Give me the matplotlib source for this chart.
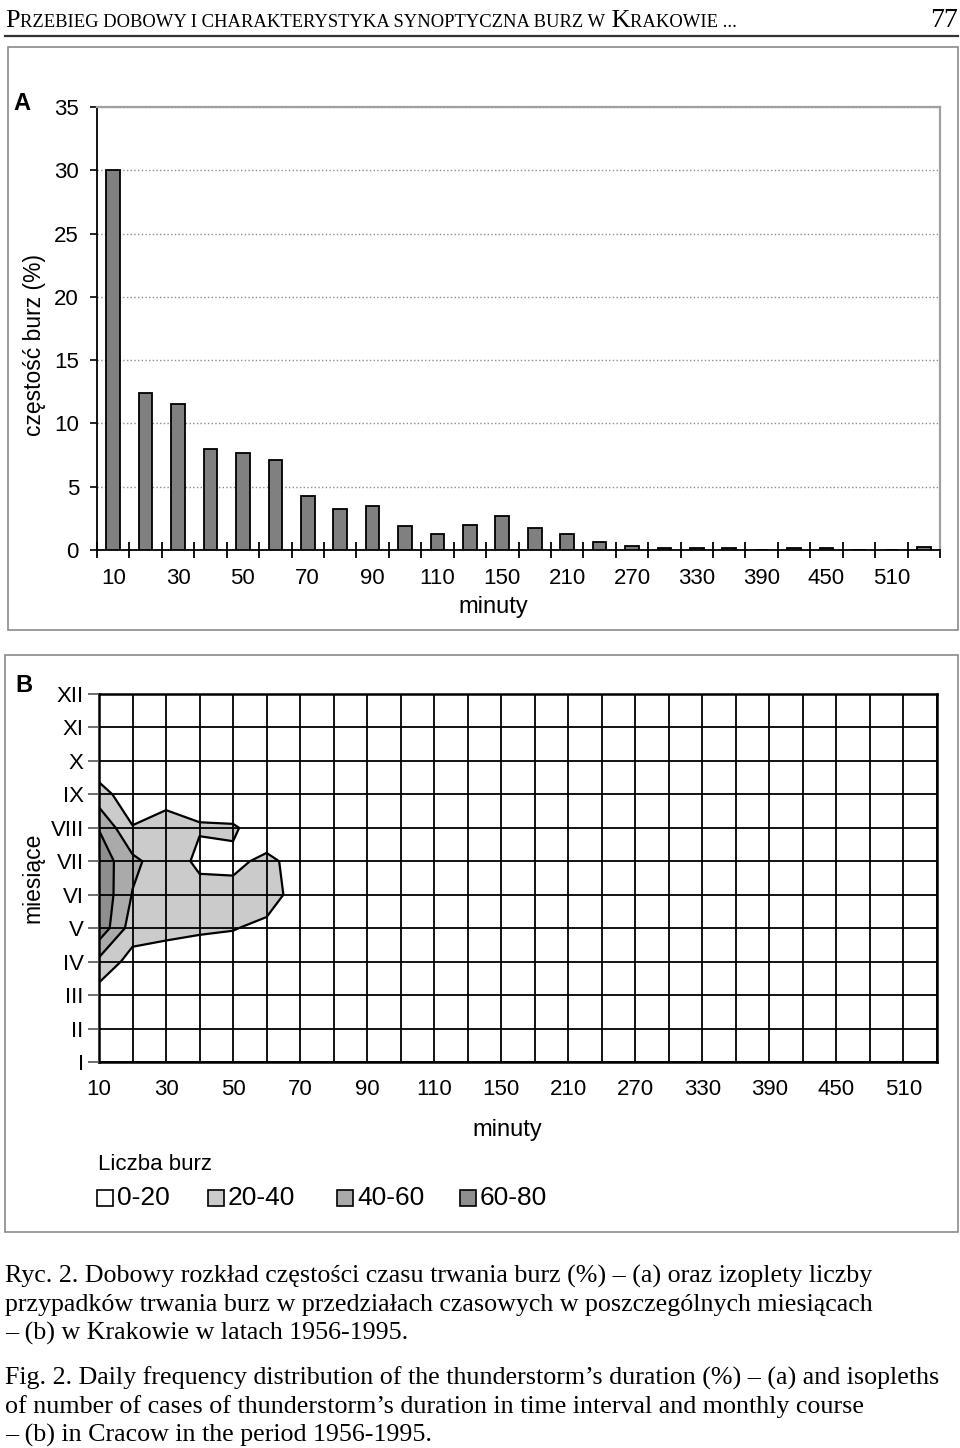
import logging
import numpy as np
import matplotlib
matplotlib.use('Agg')
import matplotlib.pyplot as plt
from matplotlib.patches import Rectangle

logging.getLogger('matplotlib.font_manager').setLevel(logging.ERROR)

SANS = ['Liberation Sans Narrow', 'Liberation Sans', 'DejaVu Sans']
SERIF = ['Liberation Serif', 'DejaVu Serif']
plt.rcParams['font.family'] = SANS

# --- dane: rys. A, czestosc czasu trwania burz (%) ---
czas = [10, 20, 30, 40, 50, 60, 70, 80, 90, 100, 110, 130, 150, 180, 210,
        240, 270, 300, 330, 360, 390, 420, 450, 480, 510, 540]
czestosc = [30.0, 12.4, 11.5, 8.0, 7.7, 7.1, 4.3, 3.2, 3.5, 1.9, 1.3, 2.0, 2.7,
            1.7, 1.3, 0.65, 0.3, 0.15, 0.15, 0.15, 0.0, 0.15, 0.15, 0.0, 0.0, 0.2]
czas_etykiety = [str(c) for c in czas[::2]]

# --- dane: rys. B, liczba burz (miesiac x przedzial czasu) ---
miesiace = ['I', 'II', 'III', 'IV', 'V', 'VI', 'VII', 'VIII', 'IX', 'X', 'XI', 'XII']
liczba = [
    [1, 1, 0, 0, 0, 0, 0, 0, 0, 0, 0, 0, 0, 0, 0, 0, 0, 0, 0, 0, 0, 0, 0, 0, 0, 0],
    [3, 1, 1, 0, 0, 0, 0, 0, 0, 0, 0, 0, 0, 0, 0, 0, 0, 0, 0, 0, 0, 0, 0, 0, 0, 0],
    [11, 3, 2, 1, 1, 0, 0, 0, 0, 0, 0, 0, 0, 0, 0, 0, 0, 0, 0, 0, 0, 0, 0, 0, 0, 0],
    [35, 12, 8, 8, 8, 4, 3, 2, 2, 1, 1, 1, 1, 1, 1, 0, 0, 0, 0, 0, 0, 0, 0, 0, 0, 0],
    [74, 30, 27, 23, 21, 15, 6, 5, 6, 3, 2, 4, 5, 3, 2, 1, 1, 0, 0, 0, 0, 0, 1, 0, 0, 0],
    [76, 39, 30, 25, 24, 30, 10, 9, 10, 6, 4, 6, 8, 5, 4, 2, 1, 1, 0, 1, 0, 0, 0, 0, 0, 1],
    [72, 45, 28, 17, 17, 23, 15, 11, 12, 6, 4, 7, 9, 6, 4, 3, 1, 1, 1, 0, 0, 1, 0, 0, 0, 1],
    [59, 21, 29, 21, 22, 11, 10, 8, 9, 5, 3, 5, 7, 4, 3, 2, 1, 0, 0, 0, 0, 0, 0, 0, 0, 0],
    [28, 8, 12, 15, 5, 4, 4, 3, 3, 2, 1, 2, 3, 2, 1, 0, 0, 0, 0, 0, 0, 0, 0, 0, 0, 0],
    [6, 2, 1, 1, 0, 0, 0, 0, 0, 0, 0, 0, 0, 0, 0, 0, 0, 0, 0, 0, 0, 0, 0, 0, 0, 0],
    [2, 0, 0, 0, 0, 0, 0, 0, 0, 0, 0, 0, 0, 0, 0, 0, 0, 0, 0, 0, 0, 0, 0, 0, 0, 0],
    [1, 0, 0, 0, 0, 0, 0, 0, 0, 0, 0, 0, 0, 0, 0, 0, 0, 0, 0, 0, 0, 0, 0, 0, 0, 0],
]
progi = [0, 20, 40, 60, 80]
progi_etykiety = ['0-20', '20-40', '40-60', '60-80']
kolory = ['white', '#cbcbcb', '#aaaaaa', '#8e8e8e']

W, H = 960, 1448
fig = plt.figure(figsize=(W / 100, H / 100), dpi=100)


def fx(px):
    return px / W


def fy(py):
    return 1 - py / H


def ramka(x0, y0, x1, y1):
    fig.patches.append(Rectangle((fx(x0), fy(y1)), fx(x1) - fx(x0), fy(y0) - fy(y1),
                                 transform=fig.transFigure, fill=False,
                                 edgecolor='#8a8a8a', lw=1.2))


# ===================== A =====================
ramka(8, 47, 958, 630)
axA = fig.add_axes([fx(97), fy(550), fx(940) - fx(97), fy(107) - fy(550)])
pos = np.arange(len(czas))
axA.bar(pos, czestosc, width=0.42, color='#808080', edgecolor='black', lw=1.3, zorder=3)
axA.set_xlim(-0.5, len(czas) - 0.5)
axA.set_ylim(0, 35)
axA.set_yticks(range(0, 36, 5))
axA.yaxis.grid(True, ls=':', color='#8c8c8c', lw=1.0)
axA.set_axisbelow(True)
axA.set_xticks(pos[::2], czas_etykiety)
axA.set_xticks(np.arange(-0.5, len(czas), 1), minor=True)
axA.tick_params(axis='x', which='major', length=0, pad=13, labelsize=16)
axA.tick_params(axis='x', which='minor', direction='inout', length=11, width=1.3)
axA.tick_params(axis='y', length=5, width=1.2, pad=8, labelsize=16)
for s in ['top', 'right']:
    axA.spines[s].set_color('#a0a0a0')
    axA.spines[s].set_linewidth(1.6)
axA.spines['left'].set_linewidth(1.3)
axA.spines['bottom'].set_linewidth(1.3)
fig.text(fx(35), fy(345), 'częstość burz (%)', rotation=90, ha='center', va='center', fontsize=16.5)
fig.text(fx(493), fy(607), 'minuty', ha='center', va='center', fontsize=17)
fig.text(fx(22), fy(103), 'A', ha='center', va='center', fontsize=17, weight='bold')

# ===================== B =====================
ramka(5, 655, 958, 1232)
axB = fig.add_axes([fx(99), fy(1062), fx(937) - fx(99), fy(694) - fy(1062)])
Z = np.array(liczba, dtype=float)
X = np.arange(len(czas))
Y = np.arange(1, len(miesiace) + 1)
axB.contourf(X, Y, Z, levels=progi, colors=kolory)
axB.contour(X, Y, Z, levels=progi[1:-1], colors='black', linewidths=1.6)
axB.set_xlim(0, len(czas) - 1)
axB.set_ylim(1, 12)
axB.set_xticks(X[::2], czas_etykiety)
axB.set_xticks(X, minor=True)
axB.set_yticks(Y, miesiace)
axB.grid(True, which='both', color='black', lw=1.3)
axB.set_axisbelow(False)
axB.tick_params(axis='x', which='both', length=0, pad=12, labelsize=16)
axB.tick_params(axis='y', length=8, width=1.2, color='#555555', pad=3, labelsize=16)
for s in axB.spines.values():
    s.set_linewidth(1.8)
fig.text(fx(33), fy(878), 'miesiące', rotation=90, ha='center', va='center', fontsize=16.5)
fig.text(fx(507), fy(1130), 'minuty', ha='center', va='center', fontsize=17)
fig.text(fx(24), fy(685), 'B', ha='center', va='center', fontsize=17, weight='bold')

# legenda
fig.text(fx(98), fy(1170), 'Liczba burz', ha='left', va='baseline', fontsize=16)
leg_x = [97, 208, 337, 460]
for x0, lab, kol in zip(leg_x, progi_etykiety, kolory):
    fig.patches.append(Rectangle((fx(x0), fy(1206)), fx(16), 16 / H,
                                 transform=fig.transFigure, facecolor=kol,
                                 edgecolor='black', lw=1.2))
    fig.text(fx(x0 + 20), fy(1198), lab, ha='left', va='center', fontsize=19)

# ===================== naglowek i podpis =====================
r = fig.canvas.get_renderer()


def kapitaliki(x, y, czesci, skala):
    for txt, size in czesci:
        t = fig.text(fx(x), fy(y), txt, fontsize=size * skala, family=SERIF, va='baseline', ha='left')
        x += t.get_window_extent(renderer=r).width


def szerokosc(czesci):
    w = 0
    for txt, size in czesci:
        t = fig.text(0, 0, txt, fontsize=size, family=SERIF)
        w += t.get_window_extent(renderer=r).width
        t.remove()
    return w


naglowek = [('P', 21), ('RZEBIEG DOBOWY I CHARAKTERYSTYKA SYNOPTYCZNA BURZ W', 15),
            (' K', 21), ('RAKOWIE ...', 15)]
kapitaliki(5, 27, naglowek, 735 / szerokosc(naglowek))
fig.text(fx(958), fy(27), '77', family=SERIF, fontsize=20, ha='right', va='baseline')
fig.add_artist(plt.Line2D([fx(5), fx(958)], [fy(36), fy(36)], color='#333333', lw=1.6))

podpis = [
    'Ryc. 2. Dobowy rozkład częstości czasu trwania burz (%) – (a) oraz izoplety liczby',
    'przypadków trwania burz w przedziałach czasowych w poszczególnych miesiącach',
    '– (b) w Krakowie w latach 1956-1995.',
    'Fig. 2. Daily frequency distribution of the thunderstorm’s duration (%) – (a) and isopleths',
    'of number of cases of thunderstorm’s duration in time interval and monthly course',
    '– (b) in Cracow in the period 1956-1995.',
]
linie_y = [1283, 1311, 1340, 1385, 1413, 1442]
rozm = 16 * 935 / szerokosc([(podpis[3], 16)])
for txt, y in zip(podpis, linie_y):
    fig.text(fx(5), fy(y), txt, fontsize=rozm, family=SERIF, ha='left', va='baseline')

fig.savefig('out.png', dpi=100)
